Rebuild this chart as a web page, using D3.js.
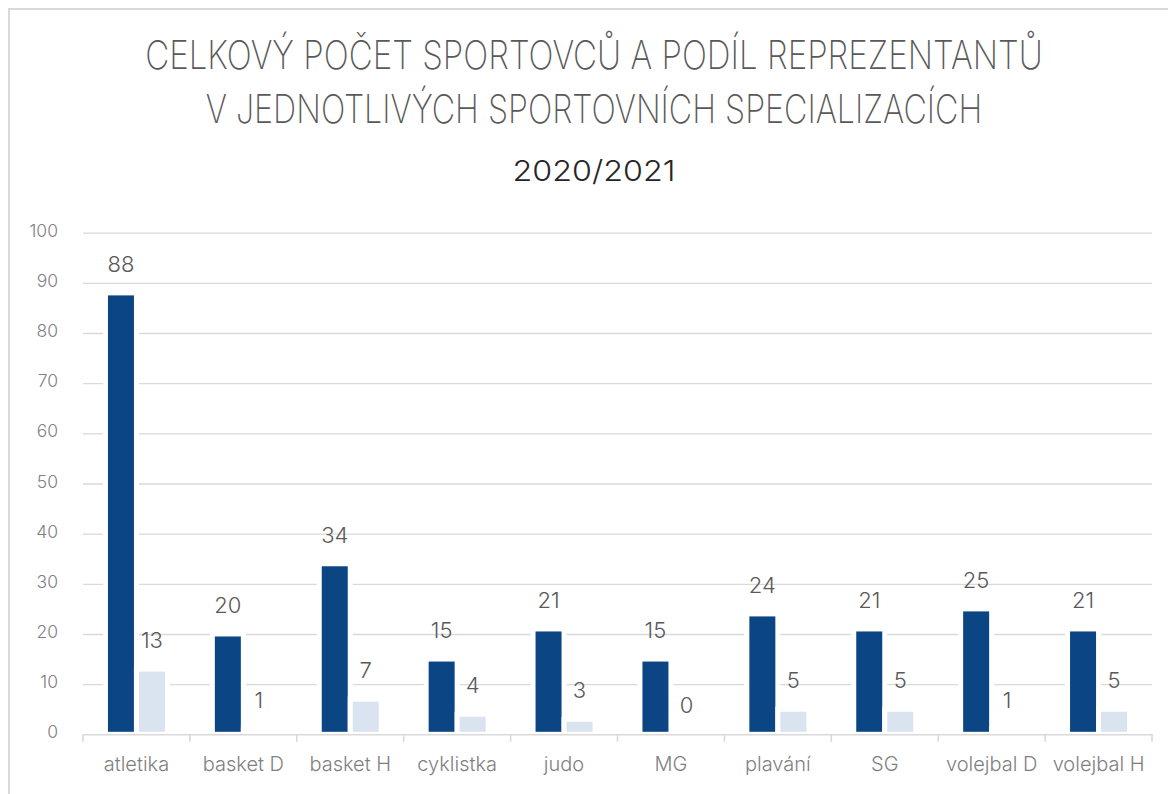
<!DOCTYPE html>
<html>
<head>
<meta charset="utf-8">
<script src="https://cdn.jsdelivr.net/npm/d3@7"></script>
<style>
  html, body { margin: 0; padding: 0; background: #fff; }
  svg { display: block; font-family: "Open Sans", "Noto Sans", sans-serif; }
</style>
</head>
<body>
<svg id="chart" width="1168" height="794"></svg>
<script>
const titleLines = ["CELKOVÝ POČET SPORTOVCŮ A PODÍL REPREZENTANTŮ", "V JEDNOTLIVÝCH SPORTOVNÍCH SPECIALIZACÍCH"];
const subtitle = "2020/2021";
const categories = ["atletika", "basket D", "basket H", "cyklistka", "judo", "MG", "plavání", "SG", "volejbal D", "volejbal H"];
const seriesNames = ["Celkový počet sportovců", "Reprezentanti"];
const totalAthletes = [88, 20, 34, 15, 21, 15, 24, 21, 25, 21];
const representatives = [13, 1, 7, 4, 3, 0, 5, 5, 1, 5];
const yTicks = [0, 10, 20, 30, 40, 50, 60, 70, 80, 90, 100];
const seriesColors = ["#0b4584", "#dae3f0"];

const svg = d3.select("#chart");
const plot = { left: 83, right: 1152, top: 232.7, bottom: 734.3 };
const thinFont = "Inter, 'Open Sans', sans-serif";

// frame
svg.append("rect").attr("x", 9).attr("y", 9).attr("width", 1300).attr("height", 1000)
  .attr("fill", "#fff").attr("stroke", "#d9d9d9").attr("stroke-width", 2);

// titles
const titleCenter = 594;
function fitText(sel, targetWidth) {
  const w = sel.node().getComputedTextLength();
  const sx = targetWidth / w;
  const x = +sel.attr("x");
  sel.attr("transform", `translate(${x},0) scale(${sx},1) translate(${-x},0)`);
}
const t1 = svg.append("text").attr("x", titleCenter).attr("y", 69.3).attr("text-anchor", "middle")
  .attr("font-family", thinFont).attr("font-size", 39.5).attr("font-weight", 200).attr("fill", "#595959").text(titleLines[0]);
fitText(t1, 898);
const t2 = svg.append("text").attr("x", titleCenter).attr("y", 123.3).attr("text-anchor", "middle")
  .attr("font-family", thinFont).attr("font-size", 39.5).attr("font-weight", 200).attr("fill", "#595959").text(titleLines[1]);
fitText(t2, 777);
const t3 = svg.append("text").attr("x", titleCenter).attr("y", 181).attr("text-anchor", "middle")
  .attr("font-family", thinFont).attr("font-size", 29).attr("font-weight", 300).attr("fill", "#262626").text(subtitle);
fitText(t3, 163);

// scales
const x = d3.scaleBand().domain(categories).range([plot.left, plot.right]).paddingInner(0).paddingOuter(0);
const bw = x.bandwidth();
const xs = d3.scaleBand().domain(seriesNames).range([bw * 0.21, bw * 0.79]).padding(0);
const y = d3.scaleLinear().domain([0, 100]).range([plot.bottom, plot.top]);

// gridlines
const grid = svg.append("g").attr("transform", `translate(${plot.left},0)`)
  .call(d3.axisLeft(y).tickValues(yTicks.filter(v => v > 0)).tickSize(-(plot.right - plot.left)).tickFormat(""));
grid.select(".domain").remove();
grid.selectAll("line").attr("stroke", "#d9d9d9").attr("stroke-width", 1.3);

// y labels
const yAx = svg.append("g").attr("transform", `translate(${plot.left},0)`)
  .call(d3.axisLeft(y).tickValues(yTicks).tickSize(0).tickPadding(25));
yAx.select(".domain").remove();
yAx.selectAll("text").attr("font-size", 17.5).attr("font-weight", 300).attr("fill", "#7f7f7f")
  .attr("font-family", thinFont).attr("dy", "0.2em");

// bars
const rows = categories.map((c, i) => ({ cat: c, vals: [totalAthletes[i], representatives[i]] }));
const groups = svg.append("g").selectAll("g").data(rows).join("g")
  .attr("transform", d => `translate(${x(d.cat)},0)`);
groups.selectAll("rect").data(d => d.vals.map((v, k) => ({ v, s: seriesNames[k], k }))).join("rect")
  .attr("x", d => xs(d.s)).attr("width", xs.bandwidth())
  .attr("y", d => y(d.v)).attr("height", d => y(0) - y(d.v))
  .attr("fill", d => seriesColors[d.k]).attr("stroke", "#fff").attr("stroke-width", 5);

// data labels
groups.selectAll("text.lbl").data(d => d.vals.map((v, k) => ({ v, s: seriesNames[k], k }))).join("text")
  .attr("class", "lbl")
  .attr("x", d => xs(d.s) + xs.bandwidth() / 2)
  .attr("y", d => y(d.v) - 21)
  .attr("text-anchor", "middle").attr("font-size", 22).attr("font-weight", 300).attr("fill", "#595959")
  .attr("font-family", thinFont)
  .text(d => d.v);

// x axis
const xAx = svg.append("g").attr("transform", `translate(0,${plot.bottom})`)
  .call(d3.axisBottom(x).tickSize(0).tickPadding(23));
xAx.select(".domain").attr("stroke", "#d9d9d9").attr("stroke-width", 1.6);
xAx.selectAll("text").attr("font-size", 20).attr("font-weight", 300).attr("fill", "#7f7f7f")
  .attr("font-family", thinFont);
const boundaries = categories.map(c => x(c)).concat([plot.right]);
svg.append("g").selectAll("line").data(boundaries).join("line")
  .attr("x1", d => d).attr("x2", d => d).attr("y1", plot.bottom).attr("y2", plot.bottom + 7.5)
  .attr("stroke", "#d9d9d9").attr("stroke-width", 1.6);
</script>
</body>
</html>
